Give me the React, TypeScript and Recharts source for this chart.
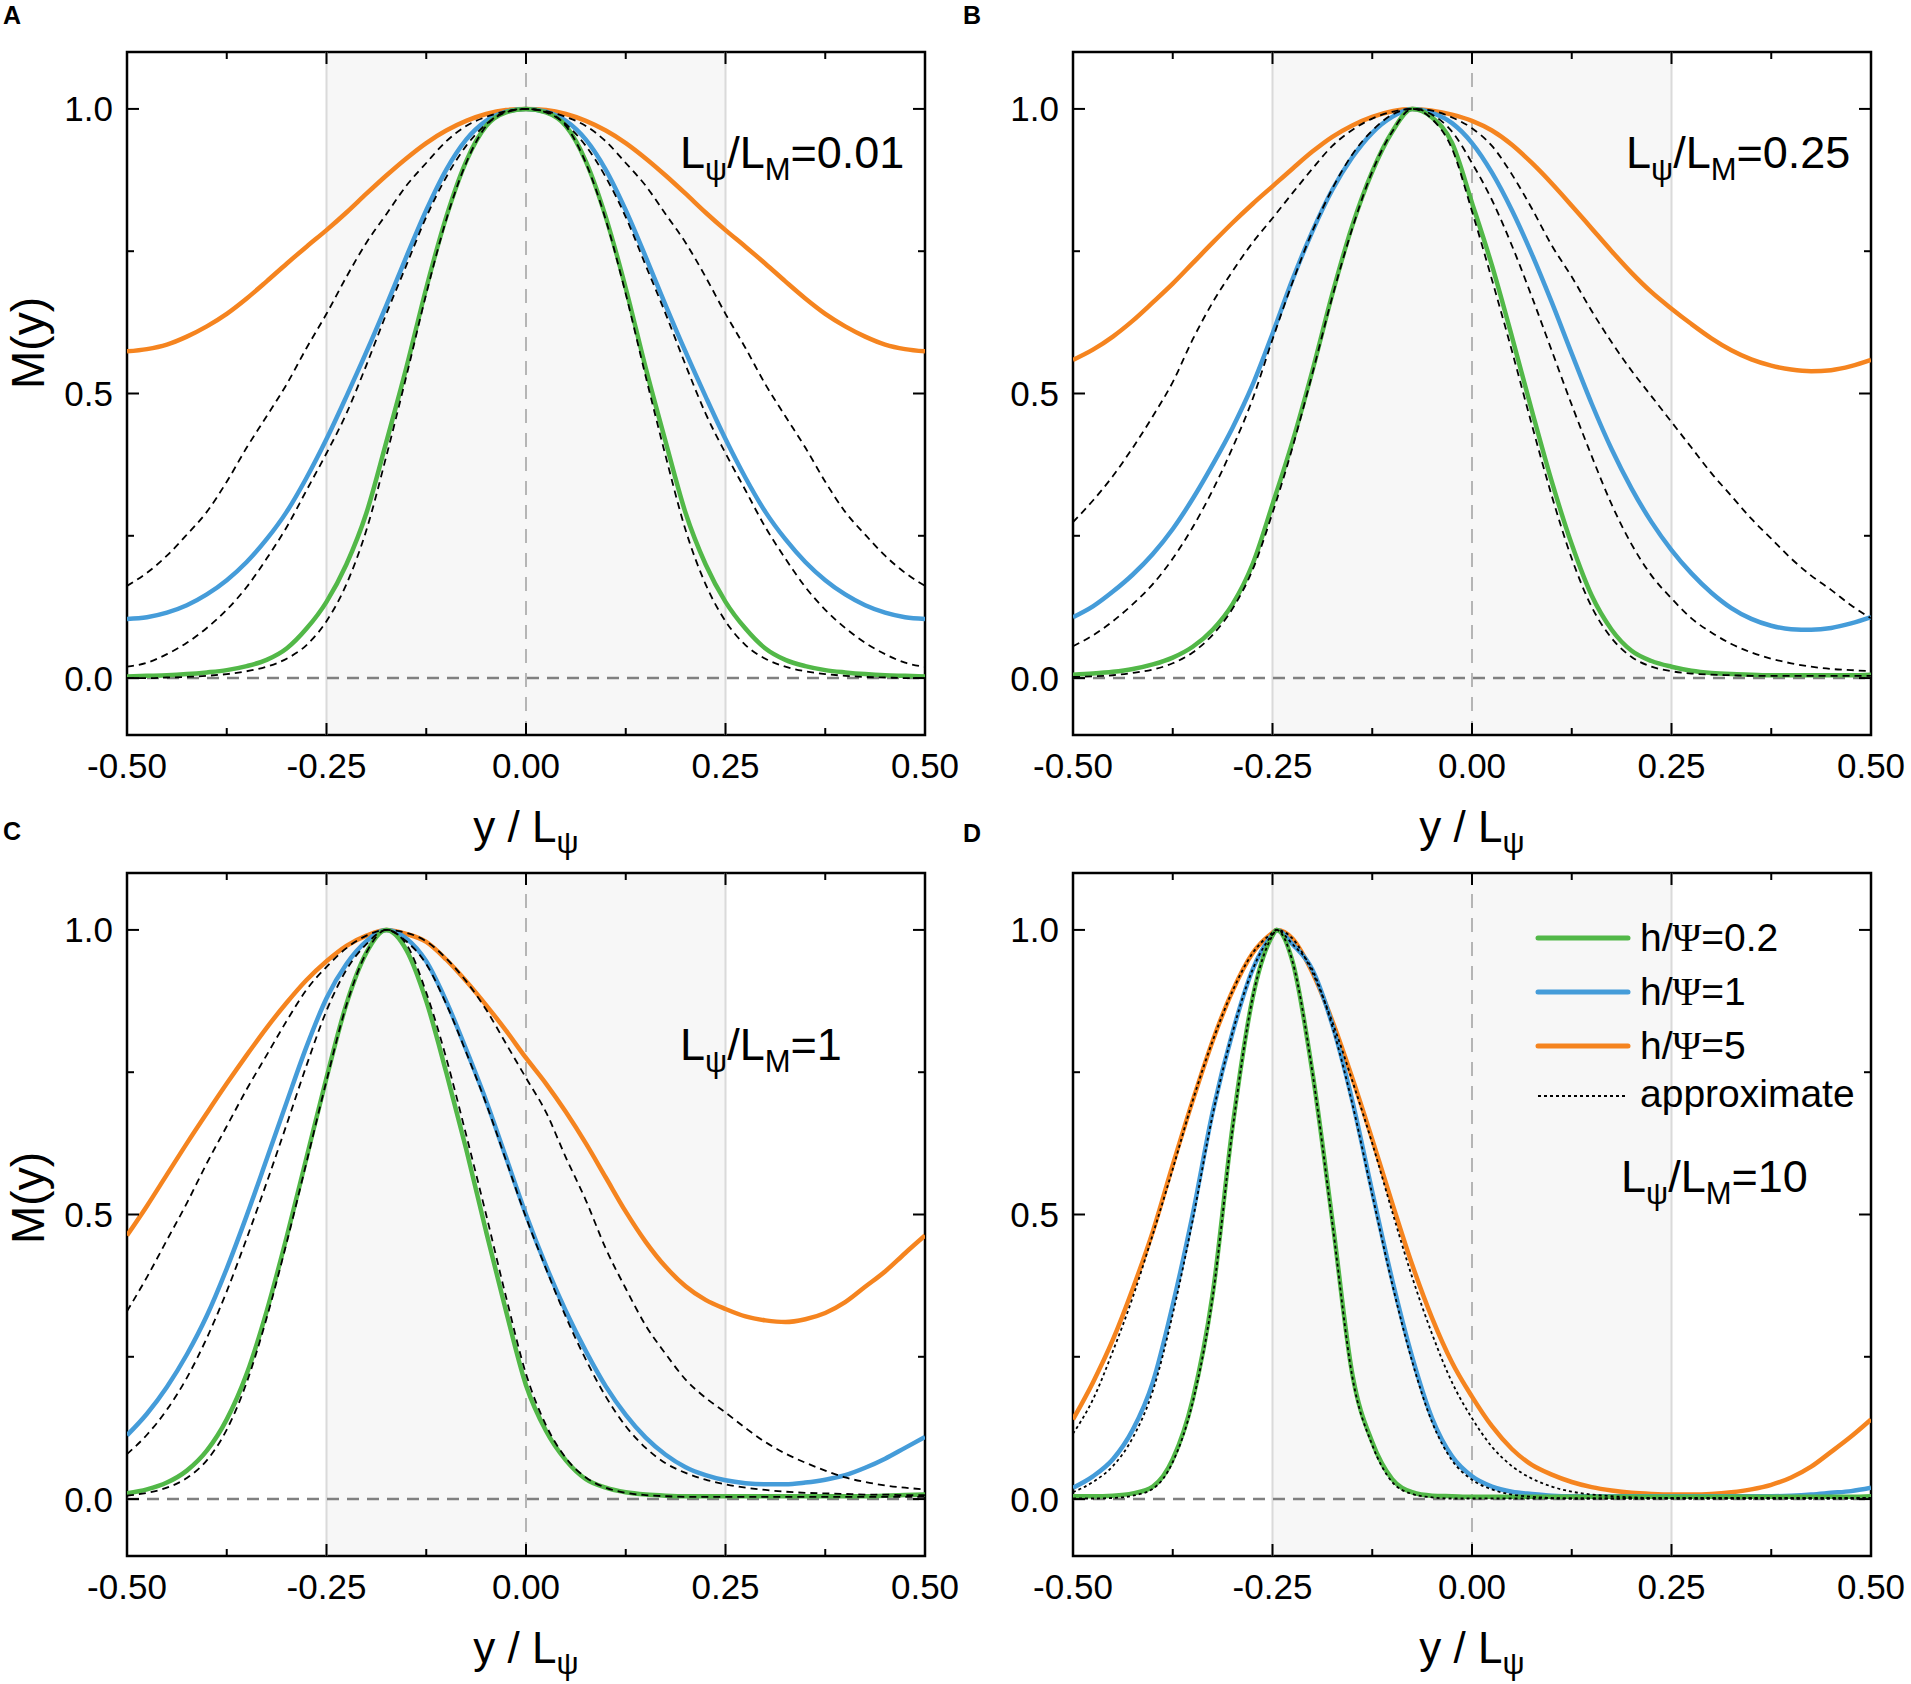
import React from "react";
import { LineChart, Line, XAxis, YAxis, ReferenceArea, ReferenceLine } from "recharts";

// sample positions y / L_psi (panel D has one extra point at its peak)
const X = [-0.5, -0.475, -0.45, -0.425, -0.4, -0.375, -0.35, -0.325, -0.3, -0.275, -0.25, -0.225, -0.2, -0.175, -0.15, -0.125, -0.1, -0.075, -0.05, -0.025, 0, 0.025, 0.05, 0.075, 0.1, 0.125, 0.15, 0.175, 0.2, 0.225, 0.25, 0.275, 0.3, 0.325, 0.35, 0.375, 0.4, 0.425, 0.45, 0.475, 0.5];
const X_D = [-0.5, -0.475, -0.45, -0.425, -0.4, -0.375, -0.35, -0.325, -0.3, -0.275, -0.25, -0.245, -0.225, -0.2, -0.175, -0.15, -0.125, -0.1, -0.075, -0.05, -0.025, 0, 0.025, 0.05, 0.075, 0.1, 0.125, 0.15, 0.175, 0.2, 0.225, 0.25, 0.275, 0.3, 0.325, 0.35, 0.375, 0.4, 0.425, 0.45, 0.475, 0.5];

const X_TICKS = [-0.5, -0.375, -0.25, -0.125, 0, 0.125, 0.25, 0.375, 0.5];
const X_LABELLED = [-0.5, -0.25, 0, 0.25, 0.5];
const Y_TICKS = [0, 0.25, 0.5, 0.75, 1];
const Y_LABELLED = [0, 0.5, 1];

const LEGEND_LABELS = ["0.2", "1", "5"];
const RATIO_LABELS = ["0.01", "0.25", "1", "10"];

// ---- panel A : L_psi/L_M = 0.01 ----
const GREEN_A = [0.003, 0.004, 0.005, 0.007, 0.010, 0.014, 0.021, 0.032, 0.052, 0.087, 0.134, 0.200, 0.290, 0.415, 0.545, 0.685, 0.810, 0.908, 0.970, 0.994, 1.000, 0.994, 0.970, 0.908, 0.810, 0.685, 0.545, 0.415, 0.290, 0.200, 0.134, 0.087, 0.052, 0.032, 0.021, 0.014, 0.010, 0.007, 0.005, 0.004, 0.003];
const BLUE_A = [0.104, 0.107, 0.115, 0.128, 0.147, 0.172, 0.204, 0.244, 0.292, 0.352, 0.420, 0.495, 0.573, 0.655, 0.740, 0.822, 0.893, 0.946, 0.979, 0.995, 1.000, 0.995, 0.979, 0.946, 0.893, 0.822, 0.740, 0.655, 0.573, 0.495, 0.420, 0.352, 0.292, 0.244, 0.204, 0.172, 0.147, 0.128, 0.115, 0.107, 0.104];
const ORANGE_A = [0.574, 0.578, 0.586, 0.600, 0.618, 0.640, 0.667, 0.697, 0.728, 0.758, 0.787, 0.818, 0.851, 0.883, 0.913, 0.940, 0.962, 0.979, 0.991, 0.998, 1.000, 0.998, 0.991, 0.979, 0.962, 0.940, 0.913, 0.883, 0.851, 0.818, 0.787, 0.758, 0.728, 0.697, 0.667, 0.640, 0.618, 0.600, 0.586, 0.578, 0.574];
const APPROX_GREEN_A = [0.000, 0.000, 0.001, 0.002, 0.004, 0.007, 0.012, 0.020, 0.034, 0.058, 0.100, 0.165, 0.260, 0.390, 0.530, 0.675, 0.805, 0.905, 0.970, 0.995, 1.000, 0.995, 0.970, 0.905, 0.805, 0.675, 0.530, 0.390, 0.260, 0.165, 0.100, 0.058, 0.034, 0.020, 0.012, 0.007, 0.004, 0.002, 0.001, 0.000, 0.000];
const APPROX_BLUE_A = [0.020, 0.027, 0.042, 0.062, 0.088, 0.120, 0.160, 0.210, 0.265, 0.330, 0.395, 0.465, 0.550, 0.640, 0.725, 0.810, 0.880, 0.935, 0.973, 0.994, 1.000, 0.994, 0.973, 0.935, 0.880, 0.810, 0.725, 0.640, 0.550, 0.465, 0.395, 0.330, 0.265, 0.210, 0.160, 0.120, 0.088, 0.062, 0.042, 0.027, 0.020];
const APPROX_ORANGE_A = [0.162, 0.185, 0.215, 0.252, 0.292, 0.345, 0.405, 0.460, 0.516, 0.580, 0.640, 0.705, 0.765, 0.815, 0.865, 0.905, 0.943, 0.970, 0.986, 0.996, 1.000, 0.996, 0.986, 0.970, 0.943, 0.905, 0.865, 0.815, 0.765, 0.705, 0.640, 0.580, 0.516, 0.460, 0.405, 0.345, 0.292, 0.252, 0.215, 0.185, 0.162];

// ---- panel B : L_psi/L_M = 0.25 ----
const GREEN_B = [0.006, 0.008, 0.011, 0.016, 0.024, 0.036, 0.055, 0.085, 0.130, 0.200, 0.305, 0.415, 0.540, 0.675, 0.795, 0.890, 0.960, 1.000, 0.985, 0.940, 0.835, 0.725, 0.600, 0.470, 0.345, 0.235, 0.145, 0.085, 0.048, 0.030, 0.020, 0.013, 0.009, 0.007, 0.006, 0.005, 0.005, 0.005, 0.005, 0.005, 0.006];
const BLUE_B = [0.107, 0.126, 0.152, 0.182, 0.218, 0.262, 0.315, 0.375, 0.440, 0.515, 0.605, 0.700, 0.785, 0.858, 0.915, 0.958, 0.986, 1.000, 0.993, 0.975, 0.940, 0.888, 0.822, 0.745, 0.660, 0.570, 0.482, 0.402, 0.333, 0.274, 0.225, 0.184, 0.150, 0.123, 0.104, 0.092, 0.086, 0.085, 0.088, 0.096, 0.107];
const ORANGE_B = [0.559, 0.577, 0.600, 0.628, 0.660, 0.693, 0.729, 0.765, 0.800, 0.833, 0.864, 0.895, 0.925, 0.951, 0.971, 0.986, 0.996, 1.000, 0.997, 0.990, 0.979, 0.962, 0.937, 0.905, 0.869, 0.830, 0.790, 0.750, 0.712, 0.678, 0.649, 0.622, 0.597, 0.576, 0.560, 0.549, 0.542, 0.539, 0.541, 0.548, 0.559];
const APPROX_GREEN_B = [0.002, 0.003, 0.005, 0.009, 0.015, 0.026, 0.045, 0.076, 0.122, 0.190, 0.290, 0.405, 0.535, 0.670, 0.790, 0.890, 0.960, 1.000, 0.982, 0.930, 0.820, 0.700, 0.575, 0.445, 0.320, 0.210, 0.125, 0.070, 0.037, 0.020, 0.012, 0.008, 0.006, 0.005, 0.004, 0.004, 0.004, 0.004, 0.004, 0.004, 0.004];
const APPROX_BLUE_B = [0.056, 0.075, 0.100, 0.130, 0.165, 0.210, 0.265, 0.330, 0.405, 0.490, 0.595, 0.695, 0.785, 0.860, 0.920, 0.962, 0.990, 1.000, 0.990, 0.960, 0.905, 0.840, 0.760, 0.670, 0.575, 0.480, 0.390, 0.305, 0.235, 0.180, 0.140, 0.105, 0.080, 0.060, 0.045, 0.034, 0.026, 0.020, 0.016, 0.014, 0.012];
const APPROX_ORANGE_B = [0.274, 0.312, 0.355, 0.405, 0.460, 0.520, 0.595, 0.660, 0.715, 0.765, 0.808, 0.852, 0.895, 0.935, 0.963, 0.983, 0.995, 1.000, 0.997, 0.985, 0.966, 0.935, 0.885, 0.825, 0.760, 0.705, 0.645, 0.590, 0.540, 0.495, 0.450, 0.405, 0.360, 0.320, 0.280, 0.245, 0.210, 0.180, 0.155, 0.128, 0.105];

// ---- panel C : L_psi/L_M = 1 ----
const GREEN_C = [0.010, 0.017, 0.029, 0.050, 0.085, 0.140, 0.220, 0.330, 0.460, 0.600, 0.740, 0.870, 0.960, 1.000, 0.965, 0.875, 0.750, 0.615, 0.470, 0.330, 0.200, 0.120, 0.068, 0.035, 0.020, 0.012, 0.008, 0.006, 0.005, 0.005, 0.005, 0.005, 0.005, 0.005, 0.005, 0.005, 0.005, 0.005, 0.006, 0.007, 0.008];
const BLUE_C = [0.112, 0.150, 0.197, 0.254, 0.322, 0.405, 0.498, 0.597, 0.697, 0.795, 0.880, 0.940, 0.980, 1.000, 0.985, 0.945, 0.875, 0.790, 0.700, 0.600, 0.500, 0.410, 0.330, 0.260, 0.198, 0.148, 0.108, 0.078, 0.056, 0.042, 0.033, 0.028, 0.026, 0.026, 0.029, 0.034, 0.042, 0.055, 0.071, 0.090, 0.109];
const ORANGE_C = [0.463, 0.515, 0.570, 0.625, 0.678, 0.730, 0.780, 0.828, 0.872, 0.912, 0.945, 0.972, 0.990, 1.000, 0.993, 0.979, 0.948, 0.910, 0.868, 0.823, 0.775, 0.730, 0.680, 0.625, 0.565, 0.505, 0.452, 0.408, 0.374, 0.350, 0.334, 0.321, 0.314, 0.311, 0.316, 0.327, 0.346, 0.373, 0.400, 0.432, 0.463];
const APPROX_GREEN_C = [0.006, 0.011, 0.020, 0.037, 0.068, 0.122, 0.205, 0.318, 0.450, 0.592, 0.735, 0.868, 0.960, 1.000, 0.975, 0.890, 0.775, 0.640, 0.500, 0.355, 0.220, 0.130, 0.072, 0.038, 0.020, 0.011, 0.007, 0.005, 0.004, 0.004, 0.004, 0.004, 0.004, 0.004, 0.004, 0.004, 0.004, 0.004, 0.004, 0.004, 0.004];
const APPROX_BLUE_C = [0.079, 0.113, 0.157, 0.213, 0.283, 0.365, 0.458, 0.556, 0.658, 0.762, 0.858, 0.930, 0.975, 1.000, 0.980, 0.940, 0.870, 0.785, 0.695, 0.595, 0.495, 0.405, 0.320, 0.245, 0.180, 0.128, 0.090, 0.063, 0.046, 0.034, 0.026, 0.020, 0.016, 0.013, 0.011, 0.010, 0.009, 0.008, 0.008, 0.007, 0.007];
const APPROX_ORANGE_C = [0.330, 0.390, 0.455, 0.520, 0.590, 0.655, 0.720, 0.780, 0.840, 0.895, 0.935, 0.968, 0.990, 1.000, 0.995, 0.980, 0.950, 0.910, 0.860, 0.800, 0.740, 0.680, 0.600, 0.525, 0.440, 0.370, 0.305, 0.255, 0.210, 0.178, 0.152, 0.125, 0.100, 0.080, 0.064, 0.050, 0.038, 0.030, 0.024, 0.020, 0.017];

// ---- panel D : L_psi/L_M = 10 (42 points, see X_D) ----
const GREEN_D = [0.005, 0.005, 0.006, 0.010, 0.022, 0.070, 0.175, 0.360, 0.655, 0.880, 0.990, 1.000, 0.945, 0.750, 0.490, 0.220, 0.100, 0.035, 0.012, 0.006, 0.005, 0.004, 0.004, 0.004, 0.004, 0.004, 0.004, 0.004, 0.004, 0.004, 0.004, 0.004, 0.004, 0.004, 0.004, 0.004, 0.004, 0.004, 0.004, 0.004, 0.004, 0.005];
const BLUE_D = [0.020, 0.040, 0.070, 0.122, 0.205, 0.341, 0.500, 0.680, 0.820, 0.930, 0.992, 1.000, 0.975, 0.930, 0.833, 0.700, 0.540, 0.385, 0.250, 0.142, 0.075, 0.040, 0.022, 0.013, 0.009, 0.006, 0.005, 0.005, 0.005, 0.005, 0.005, 0.005, 0.005, 0.005, 0.005, 0.005, 0.005, 0.006, 0.008, 0.011, 0.014, 0.020];
const ORANGE_D = [0.140, 0.205, 0.280, 0.370, 0.470, 0.587, 0.700, 0.805, 0.893, 0.959, 0.995, 1.000, 0.985, 0.925, 0.840, 0.740, 0.632, 0.520, 0.412, 0.318, 0.240, 0.180, 0.128, 0.088, 0.060, 0.043, 0.030, 0.021, 0.015, 0.011, 0.009, 0.008, 0.008, 0.009, 0.012, 0.017, 0.025, 0.038, 0.057, 0.083, 0.110, 0.140];
const APPROX_GREEN_D = [0.001, 0.001, 0.002, 0.006, 0.018, 0.065, 0.170, 0.355, 0.650, 0.880, 0.990, 1.000, 0.945, 0.750, 0.485, 0.215, 0.095, 0.030, 0.009, 0.003, 0.001, 0.001, 0.001, 0.001, 0.001, 0.001, 0.001, 0.001, 0.001, 0.001, 0.001, 0.001, 0.001, 0.001, 0.001, 0.001, 0.001, 0.001, 0.001, 0.001, 0.001, 0.001];
const APPROX_BLUE_D = [0.012, 0.030, 0.058, 0.108, 0.190, 0.325, 0.490, 0.675, 0.820, 0.930, 0.992, 1.000, 0.975, 0.930, 0.830, 0.695, 0.535, 0.378, 0.242, 0.135, 0.068, 0.034, 0.017, 0.008, 0.004, 0.002, 0.001, 0.001, 0.001, 0.001, 0.001, 0.001, 0.001, 0.001, 0.001, 0.001, 0.001, 0.001, 0.001, 0.001, 0.001, 0.001];
const APPROX_ORANGE_D = [0.115, 0.175, 0.260, 0.355, 0.465, 0.580, 0.700, 0.805, 0.893, 0.959, 0.995, 1.000, 0.985, 0.925, 0.838, 0.735, 0.625, 0.505, 0.390, 0.290, 0.205, 0.142, 0.092, 0.058, 0.036, 0.022, 0.013, 0.008, 0.005, 0.003, 0.002, 0.002, 0.002, 0.002, 0.002, 0.002, 0.002, 0.002, 0.002, 0.002, 0.002, 0.002];

const FONT = '"Liberation Sans", Arial, Helvetica, sans-serif';
const GREEN = "#52b848";
const BLUE = "#459cd9";
const ORANGE = "#f5841f";

// plot frame size and chart margins
const PW = 798;
const PH = 683;
const XAXIS_H = 40;
const YAXIS_W = 60;
const MARGIN = { top: 20, right: 38, bottom: 80, left: 60 };
const TICK_FONT = 35;

const buildRows = (xs: number[], s: number[][]) =>
  xs.map((x, i) => ({
    x,
    green: s[0][i],
    blue: s[1][i],
    orange: s[2][i],
    agreen: s[3][i],
    ablue: s[4][i],
    aorange: s[5][i],
  }));

const panels = [
  { key: "A", fx: 127, fy: 52, ratio: RATIO_LABELS[0], dash: "7 5", rows: buildRows(X, [GREEN_A, BLUE_A, ORANGE_A, APPROX_GREEN_A, APPROX_BLUE_A, APPROX_ORANGE_A]) },
  { key: "B", fx: 1073, fy: 52, ratio: RATIO_LABELS[1], dash: "7 5", rows: buildRows(X, [GREEN_B, BLUE_B, ORANGE_B, APPROX_GREEN_B, APPROX_BLUE_B, APPROX_ORANGE_B]) },
  { key: "C", fx: 127, fy: 873, ratio: RATIO_LABELS[2], dash: "7 5", rows: buildRows(X, [GREEN_C, BLUE_C, ORANGE_C, APPROX_GREEN_C, APPROX_BLUE_C, APPROX_ORANGE_C]) },
  { key: "D", fx: 1073, fy: 873, ratio: RATIO_LABELS[3], dash: "3 3", rows: buildRows(X_D, [GREEN_D, BLUE_D, ORANGE_D, APPROX_GREEN_D, APPROX_BLUE_D, APPROX_ORANGE_D]) },
];

// bottom axis tick: inward ticks on bottom and top edges + label
const XTick = (props: any) => {
  const { x, y, payload } = props;
  const major = X_LABELLED.includes(payload.value);
  const len = major ? 12 : 7;
  return (
    <g>
      <line x1={x} x2={x} y1={y} y2={y - len} stroke="#000" strokeWidth={2} />
      <line x1={x} x2={x} y1={y - PH} y2={y - PH + len} stroke="#000" strokeWidth={2} />
      {major && (
        <text x={x} y={y + 43} textAnchor="middle" fontSize={TICK_FONT} fontFamily={FONT} fill="#000">
          {payload.value.toFixed(2)}
        </text>
      )}
    </g>
  );
};

// left axis tick: inward ticks on left and right edges + label
const YTick = (props: any) => {
  const { x, y, payload } = props;
  const major = Y_LABELLED.includes(payload.value);
  const len = major ? 12 : 7;
  return (
    <g>
      <line x1={x} x2={x + len} y1={y} y2={y} stroke="#000" strokeWidth={2} />
      <line x1={x + PW} x2={x + PW - len} y1={y} y2={y} stroke="#000" strokeWidth={2} />
      {major && (
        <text x={x - 14} y={y + 12.5} textAnchor="end" fontSize={TICK_FONT} fontFamily={FONT} fill="#000">
          {payload.value.toFixed(1)}
        </text>
      )}
    </g>
  );
};

const Panel = ({ p }: { p: (typeof panels)[number] }) => {
  const solid = { type: "monotone" as const, dot: false, isAnimationActive: false, strokeWidth: 4.5 };
  const approx = { type: "monotone" as const, dot: false, isAnimationActive: false, strokeWidth: 1.8, stroke: "#000", strokeDasharray: p.dash };
  return (
    <div style={{ position: "absolute", left: p.fx - MARGIN.left - YAXIS_W, top: p.fy - MARGIN.top }}>
      <LineChart width={PW + MARGIN.left + YAXIS_W + MARGIN.right} height={PH + MARGIN.top + MARGIN.bottom + XAXIS_H} data={p.rows} margin={MARGIN}>
        <XAxis
          dataKey="x"
          type="number"
          domain={[-0.5, 0.5]}
          allowDataOverflow
          ticks={X_TICKS}
          interval={0}
          height={XAXIS_H}
          tickSize={0}
          tickMargin={0}
          tickLine={false}
          axisLine={false}
          tick={<XTick />}
        />
        <YAxis
          type="number"
          domain={[-0.1, 1.1]}
          allowDataOverflow
          ticks={Y_TICKS}
          interval={0}
          width={YAXIS_W}
          tickSize={0}
          tickMargin={0}
          tickLine={false}
          axisLine={false}
          tick={<YTick />}
        />
        {/* shaded central band and guide lines */}
        <ReferenceArea x1={-0.25} x2={0.25} y1={-0.1} y2={1.1} fill="#f7f7f7" fillOpacity={1} stroke="none" />
        <ReferenceLine x={-0.25} stroke="#dadada" strokeWidth={2} />
        <ReferenceLine x={0.25} stroke="#dadada" strokeWidth={2} />
        <ReferenceLine x={0} stroke="#b5b5b5" strokeWidth={2} strokeDasharray="14 10" />
        <ReferenceLine y={0} stroke="#808080" strokeWidth={2.5} strokeDasharray="12 8" />

        <Line {...solid} dataKey="orange" stroke={ORANGE} />
        <Line {...solid} dataKey="blue" stroke={BLUE} />
        <Line {...solid} dataKey="green" stroke={GREEN} />
        <Line {...approx} dataKey="aorange" />
        <Line {...approx} dataKey="ablue" />
        <Line {...approx} dataKey="agreen" />

        {/* plot frame */}
        <ReferenceArea x1={-0.5} x2={0.5} y1={-0.1} y2={1.1} fill="none" stroke="#000" strokeWidth={2.5} />
      </LineChart>
    </div>
  );
};

const Ratio = ({ x, y, value }: { x: number; y: number; value: string }) => (
  <text x={x} y={y} fontSize={45} fontFamily={FONT} fill="#000">
    L<tspan fontSize={31} dy={12}>ψ</tspan>
    <tspan dy={-12}>/L</tspan>
    <tspan fontSize={31} dy={12}>M</tspan>
    <tspan dy={-12}>={value}</tspan>
  </text>
);

const XLabel = ({ cx, y }: { cx: number; y: number }) => (
  <text x={cx} y={y} textAnchor="middle" fontSize={44} fontFamily={FONT} fill="#000">
    y / L<tspan fontSize={31} dy={11}>ψ</tspan>
  </text>
);

const YLabel = ({ x, cy }: { x: number; cy: number }) => (
  <text x={x} y={cy} textAnchor="middle" fontSize={46} fontFamily={FONT} fill="#000" transform={`rotate(-90 ${x} ${cy})`}>
    M(y)
  </text>
);

const LEGEND_COLORS = [GREEN, BLUE, ORANGE];
const LEGEND_Y = [938, 992, 1046];

export default function App() {
  return (
    <div style={{ position: "absolute", left: 0, top: 0, width: 1911, height: 1684, background: "#fff", fontFamily: FONT, overflow: "hidden" }}>
      {panels.map((p) => (
        <Panel key={p.key} p={p} />
      ))}
      <svg width={1911} height={1684} style={{ position: "absolute", left: 0, top: 0, pointerEvents: "none" }}>
        {/* panel letters */}
        <text x={3} y={24} fontSize={25} fontWeight="bold" fontFamily={FONT}>A</text>
        <text x={963} y={24} fontSize={25} fontWeight="bold" fontFamily={FONT}>B</text>
        <text x={3} y={840} fontSize={25} fontWeight="bold" fontFamily={FONT}>C</text>
        <text x={963} y={842} fontSize={25} fontWeight="bold" fontFamily={FONT}>D</text>

        {/* axis titles */}
        <YLabel x={44} cy={343} />
        <YLabel x={44} cy={1198} />
        <XLabel cx={526} y={842} />
        <XLabel cx={1472} y={842} />
        <XLabel cx={526} y={1663} />
        <XLabel cx={1472} y={1663} />

        {/* ratio annotations */}
        <Ratio x={680} y={168} value={panels[0].ratio} />
        <Ratio x={1626} y={168} value={panels[1].ratio} />
        <Ratio x={680} y={1060} value={panels[2].ratio} />
        <Ratio x={1621} y={1192} value={panels[3].ratio} />

        {/* legend (panel D) */}
        {LEGEND_LABELS.map((lab, i) => (
          <g key={lab}>
            <line x1={1538} x2={1628} y1={LEGEND_Y[i]} y2={LEGEND_Y[i]} stroke={LEGEND_COLORS[i]} strokeWidth={5} strokeLinecap="round" />
            <text x={1640} y={LEGEND_Y[i] + 13} fontSize={39} fontFamily={FONT} fill="#000">
              h/<tspan fontFamily='"Liberation Serif", "DejaVu Serif", serif'>Ψ</tspan>={lab}
            </text>
          </g>
        ))}
        <line x1={1538} x2={1626} y1={1096} y2={1096} stroke="#000" strokeWidth={1.8} strokeDasharray="3 3" />
        <text x={1640} y={1107} fontSize={39} fontFamily={FONT} fill="#000">approximate</text>
      </svg>
    </div>
  );
}
